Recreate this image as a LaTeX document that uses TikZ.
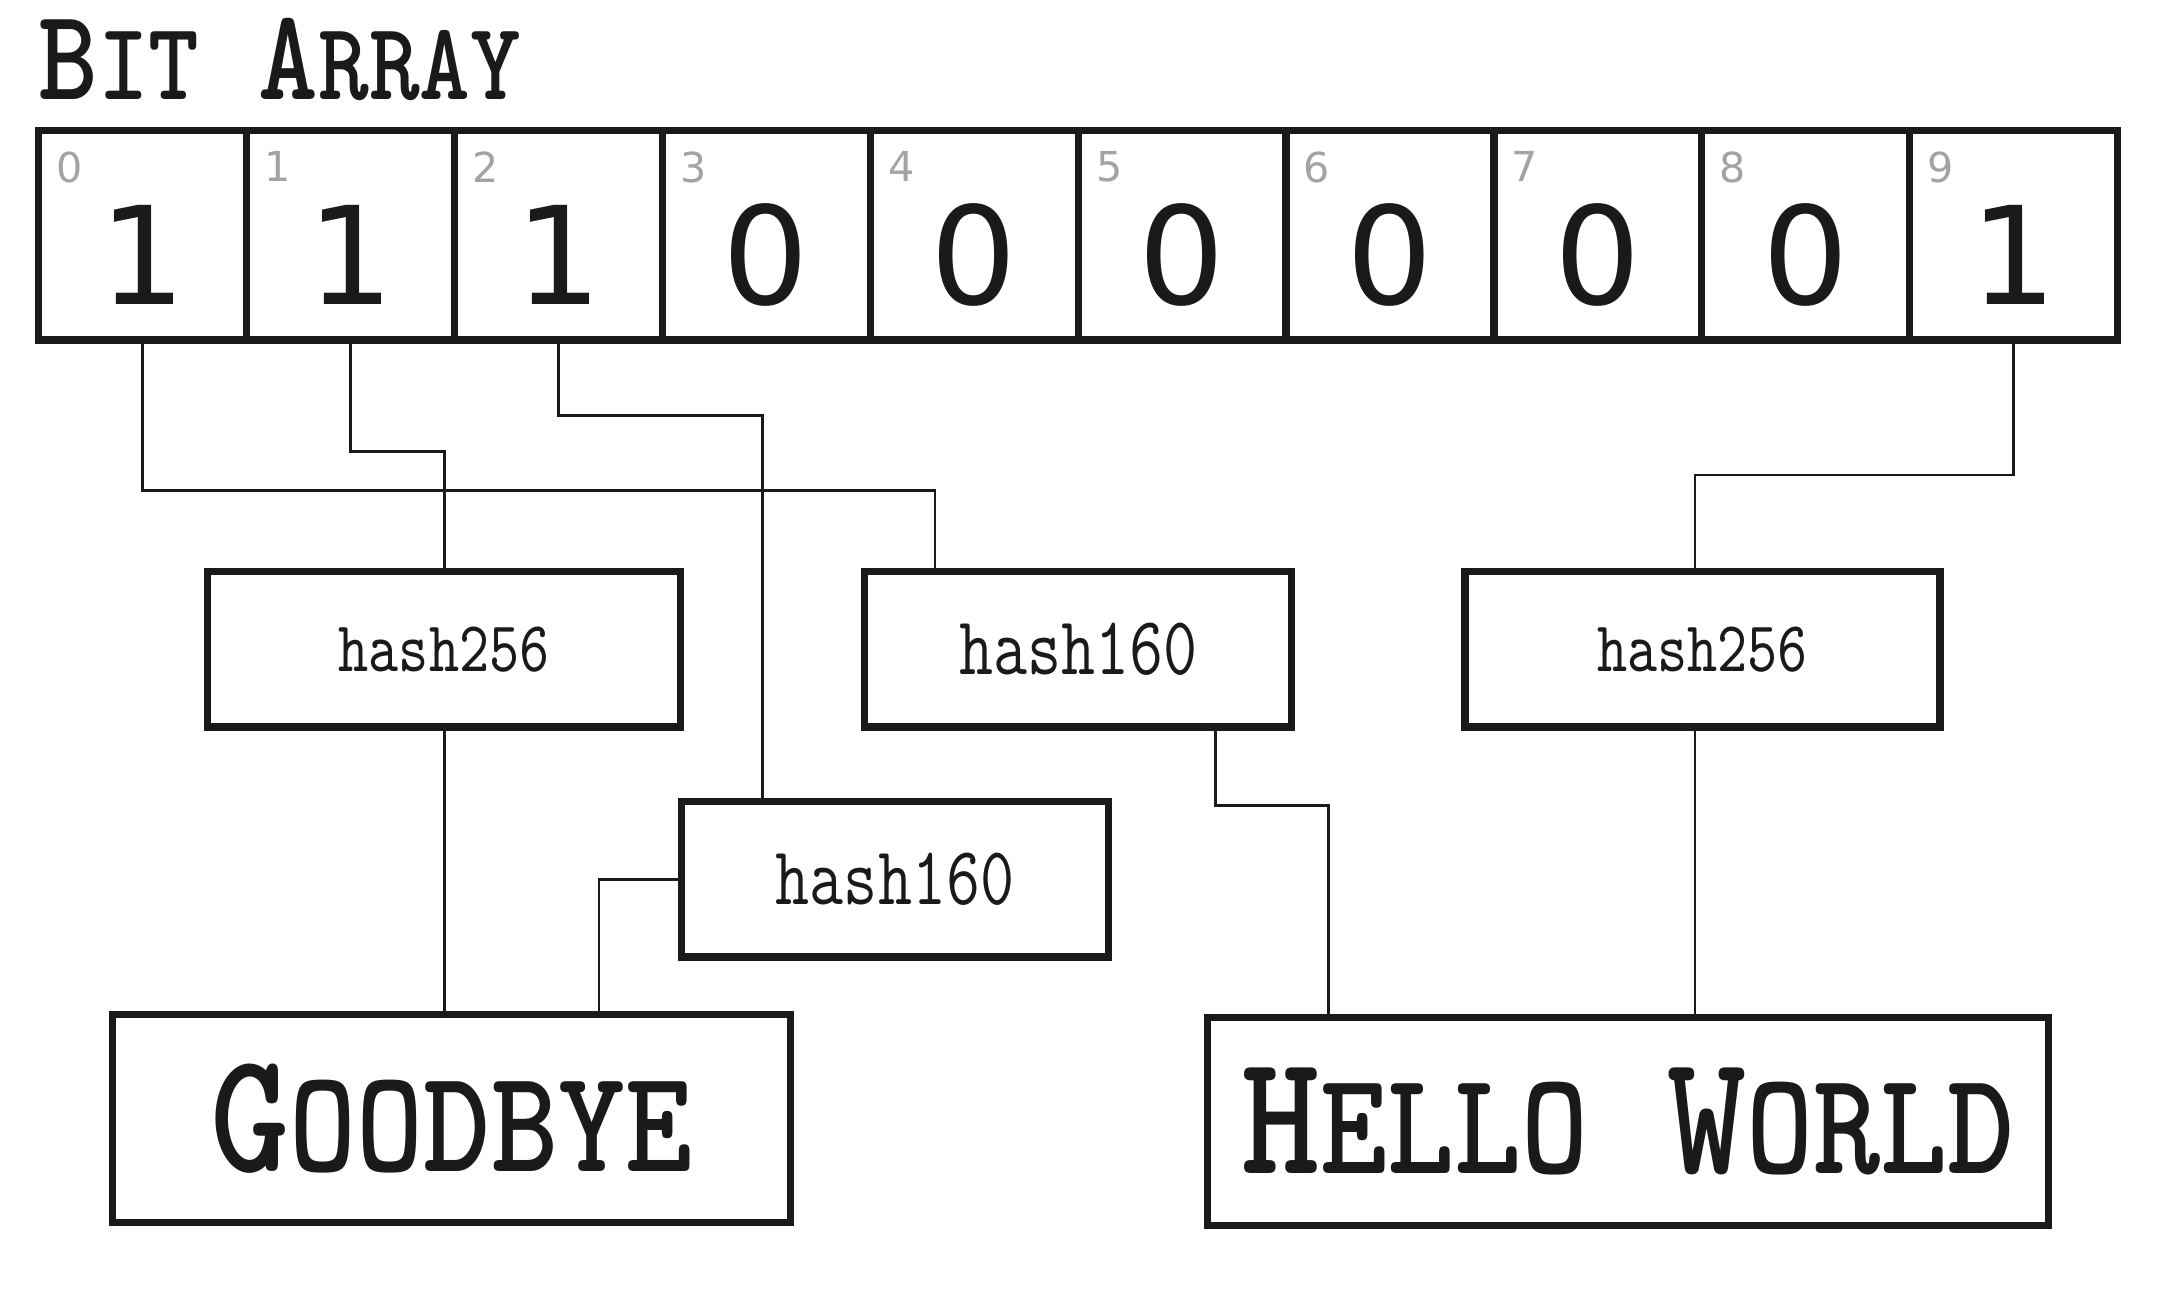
\documentclass[tikz,border=0pt]{standalone}
\usepackage{fontspec}
\usepackage{graphicx}
\newfontfamily\bitfont{DejaVu Sans}
\newcommand{\smc}[2]{#1\scalebox{0.85}{#2}}
\newcommand{\tallA}[1]{\scalebox{1}[1.15]{#1}}
\newcommand{\tallB}[1]{\scalebox{1}[1.25]{#1}}
\definecolor{ink}{HTML}{1A1A1A}
\definecolor{idxgray}{HTML}{A3A3A3}

\tikzset{every picture/.style={line width=0.5pt}}
\tikzset{
	cell/.style={draw=ink, line width=1.3pt, minimum width=37.75pt, minimum height=38pt, inner sep=0pt, text height=25pt, text depth=0pt, text=ink, font=\bitfont\fontsize{24.7}{26}\selectfont},
	idx/.style={inner sep=0pt, anchor=north west, text=idxgray, font=\bitfont\fontsize{7.5}{8}\selectfont},
	hashbox/.style={draw=ink, line width=1.3pt, minimum height=28.25pt, inner sep=0pt, text=ink},
	msgbox/.style={draw=ink, line width=1.3pt, minimum height=37.75pt, inner sep=0pt, text=ink, font=\ttfamily\bfseries\fontsize{27.3}{30}\selectfont},
	wire/.style={draw=ink, line width=0.5pt},
}

\begin{document}
\begin{tikzpicture}[x=0.25pt,y=0.25pt,yscale=-1,xscale=1]
	\useasboundingbox (0,0) rectangle (1568,938);
	
	% Title
	\node [anchor=base west, inner sep=0pt, text=ink, font=\ttfamily\bfseries\fontsize{20.6}{24}\selectfont] (title) at (27,72) {\tallA{\smc{B}{IT} \smc{A}{RRAY}}};
	
	% Bit cells and their index numbers
	\foreach \b [count=\i from 0] in {1,1,1,0,0,0,0,0,0,1}{
		\node [cell] (c\i) at ({103.5+151*\i},171) {\b};
		\node [idx] (n\i) at ({40+151*\i},109) {\i};
	}
	
	% Hash boxes
	\node [hashbox, minimum width=85.75pt, font=\ttfamily\fontsize{10.4}{12}\selectfont] (h256a) at (322.5,471.5) {\tallB{hash256}};
	\node [hashbox, minimum width=77.5pt, font=\ttfamily\fontsize{12}{14}\selectfont] (h160a) at (783,471.5) {\tallB{hash160}};
	\node [hashbox, minimum width=86.25pt, font=\ttfamily\fontsize{10.4}{12}\selectfont] (h256b) at (1236.5,471.5) {\tallB{hash256}};
	\node [hashbox, minimum width=77.5pt, font=\ttfamily\fontsize{12}{14}\selectfont] (h160b) at (650,638.5) {\tallB{hash160}};
	
	% Message boxes
	\node [msgbox, minimum width=123pt] (bye) at (328,812.5) {\tallA{\smc{G}{OODBYE}}};
	\node [msgbox, minimum width=152.75pt] (hello) at (1182.5,814.5) {\tallA{\smc{H}{ELLO} \smc{W}{ORLD}}};
	
	% Wires from bits to hashes
	\draw [wire] (c0.south) |- (679,356) -- (h160a.north -| 679,0);
	\draw [wire] (c1.south) |- (323,328) -- (h256a.north -| 323,0);
	\draw [wire] (c2.south) |- (554,302) -- (h160b.north -| 554,0);
	\draw [wire] (c9.south) |- (1231,345) -- (h256b.north -| 1231,0);
	
	% Wires from hashes to messages
	\draw [wire] (h256a.south -| 323,0) -- (bye.north -| 323,0);
	\draw [wire] (h160b.west) -| (bye.north -| 435,0);
	\draw [wire] (h160a.south -| 883,0) |- (965,585) -- (hello.north -| 965,0);
	\draw [wire] (h256b.south -| 1231,0) -- (hello.north -| 1231,0);
	
\end{tikzpicture}
\end{document}
